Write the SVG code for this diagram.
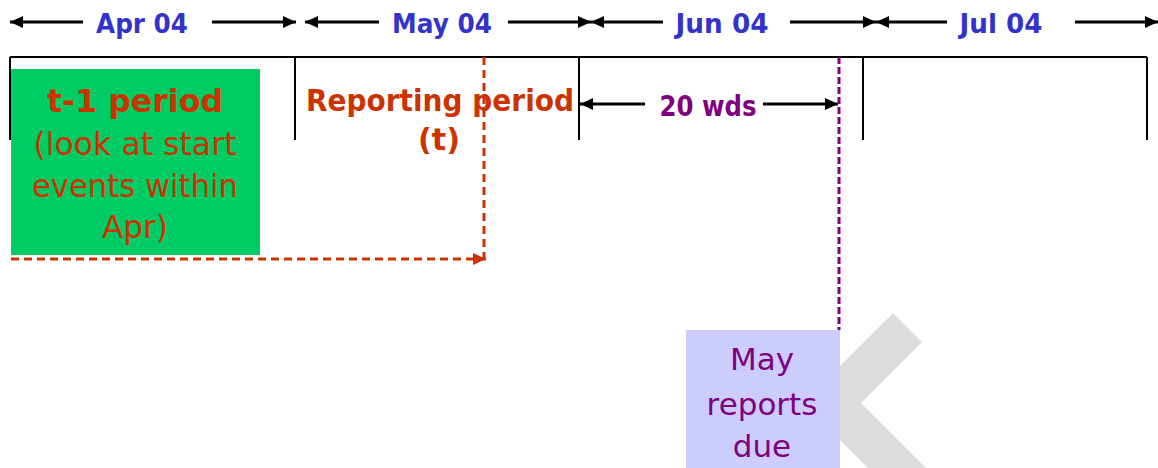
<svg xmlns="http://www.w3.org/2000/svg" width="1158" height="468" viewBox="0 0 1158 468">
<style>
.mon{font-family:"DejaVu Sans",Verdana,sans-serif;font-weight:bold;font-size:27px;fill:#3333CC;text-anchor:middle}
.ax{stroke:#000;stroke-width:3;fill:none;marker-end:url(#ah)}
.tl{stroke:#000;stroke-width:2;fill:none}
.or{font-family:"DejaVu Sans",Verdana,sans-serif;fill:#CC3300;text-anchor:middle}
.pu{font-family:"DejaVu Sans",Verdana,sans-serif;fill:#800080;text-anchor:middle}
</style>
<defs>
<marker id="ah" markerUnits="userSpaceOnUse" markerWidth="14" markerHeight="14" refX="13" refY="7" orient="auto"><path d="M0,1 L13,7 L0,13 z" fill="#000"/></marker>
<marker id="aho" markerUnits="userSpaceOnUse" markerWidth="14" markerHeight="14" refX="13" refY="7" orient="auto"><path d="M0,1 L13,7 L0,13 z" fill="#CC3300"/></marker>
</defs>
<rect width="1158" height="468" fill="#fff"/>
<g id="watermark"><polygon points="893,313 922,342 861,403 960,502 902,502 803,403" fill="#DDDDDD"/></g>
<g id="timeline">
<path class="tl" d="M10,57 H1147 M10,57 V140 M295,57 V140 M579,57 V140 M863,57 V140 M1147,57 V140"/>
</g>
<g id="months">
<text class="mon" x="142" y="33" textLength="92" lengthAdjust="spacingAndGlyphs">Apr 04</text>
<text class="mon" x="442" y="33" textLength="100" lengthAdjust="spacingAndGlyphs">May 04</text>
<text class="mon" x="722" y="33" textLength="93" lengthAdjust="spacingAndGlyphs">Jun 04</text>
<text class="mon" x="1001" y="33" textLength="83" lengthAdjust="spacingAndGlyphs">Jul 04</text>
</g>
<g id="connectors">
<line class="ax" x1="83" y1="22" x2="10" y2="22"/>
<line class="ax" x1="212" y1="22" x2="296" y2="22"/>
<line class="ax" x1="379" y1="22" x2="305" y2="22"/>
<line class="ax" x1="508" y1="22" x2="591" y2="22"/>
<line class="ax" x1="663" y1="22" x2="591" y2="22"/>
<line class="ax" x1="790" y1="22" x2="876" y2="22"/>
<line class="ax" x1="947" y1="22" x2="876" y2="22"/>
<line class="ax" x1="1075" y1="22" x2="1158" y2="22"/>
<line class="ax" x1="645" y1="104" x2="580" y2="104"/>
<line class="ax" x1="763" y1="104" x2="838" y2="104"/>
<line x1="484" y1="57" x2="484" y2="259" stroke="#CC3300" stroke-width="3" stroke-dasharray="8,5"/>
<line x1="11" y1="259" x2="486" y2="259" stroke="#CC3300" stroke-width="3" stroke-dasharray="8,5" marker-end="url(#aho)"/>
<line x1="839" y1="57" x2="839" y2="330" stroke="#800080" stroke-width="3" stroke-dasharray="7,3"/>
</g>
<g id="t1period">
<rect x="11" y="69" width="249" height="186" fill="#00CC66"/>
<text class="or" x="135" y="112" font-size="32" font-weight="bold" textLength="176" lengthAdjust="spacingAndGlyphs">t-1 period</text>
<text class="or" x="135" y="155" font-size="32" textLength="203" lengthAdjust="spacingAndGlyphs">(look at start</text>
<text class="or" x="135" y="197" font-size="32" textLength="206" lengthAdjust="spacingAndGlyphs">events within</text>
<text class="or" x="135" y="238" font-size="32" textLength="66" lengthAdjust="spacingAndGlyphs">Apr)</text>
</g>
<g id="reporting">
<text class="or" x="440" y="111" font-size="30" font-weight="bold" textLength="268" lengthAdjust="spacingAndGlyphs">Reporting period</text>
<text class="or" x="439" y="150" font-size="30" font-weight="bold" textLength="42" lengthAdjust="spacingAndGlyphs">(t)</text>
</g>
<g id="wds">
<text class="pu" x="708" y="116" font-size="28" font-weight="bold" textLength="97" lengthAdjust="spacingAndGlyphs">20 wds</text>
</g>
<g id="due">
<rect x="686" y="330" width="154" height="140" fill="#CCCCFF"/>
<text class="pu" x="762" y="370" font-size="31">May</text>
<text class="pu" x="762" y="415" font-size="31">reports</text>
<text class="pu" x="762" y="457" font-size="31">due</text>
</g>
</svg>
